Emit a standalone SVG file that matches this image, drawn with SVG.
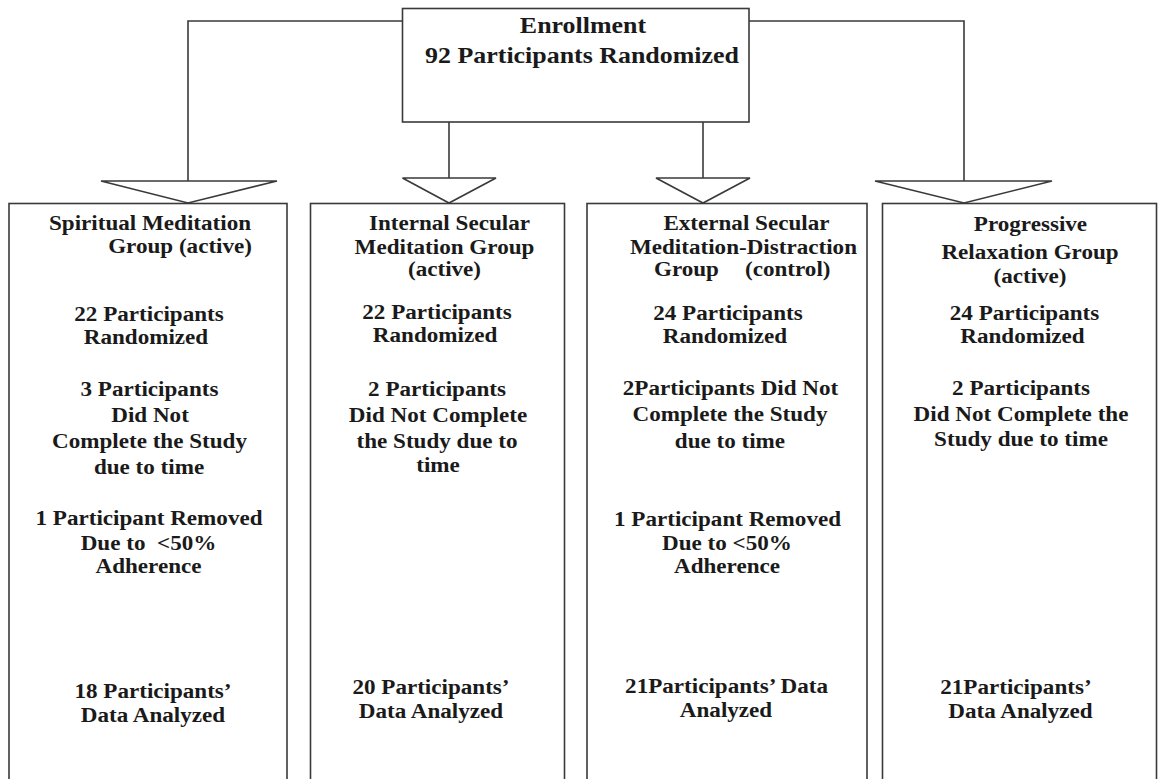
<svg xmlns="http://www.w3.org/2000/svg" width="1158" height="779" viewBox="0 0 1158 779">
<style>
.box{fill:#fff;stroke:#3a3a3a;stroke-width:1.6}
.ln{fill:none;stroke:#3a3a3a;stroke-width:1.6}
.tri{fill:#fff;stroke:#3a3a3a;stroke-width:1.6;stroke-linejoin:miter}
text{font-family:"Liberation Serif","Times New Roman",serif;font-weight:bold;font-size:21px;fill:#1a1a1a;text-anchor:middle;white-space:pre}
.big{font-size:24px}
.st{text-anchor:start}
.en{text-anchor:end}
</style>
<rect width="1158" height="779" fill="#fff"/>
<g id="connectors">
<polyline class="ln" points="402,21 188,21 188,181"/>
<line class="ln" x1="449" y1="122" x2="449" y2="178"/>
<line class="ln" x1="703" y1="122" x2="703" y2="178"/>
<polyline class="ln" points="749,21 964,21 964,181"/>
<polygon class="tri" points="101,181 277,181 188,203"/>
<polygon class="tri" points="402.5,178 496,178 449,203"/>
<polygon class="tri" points="656,178 750,178 703,203"/>
<polygon class="tri" points="875,181 1052,181 964,203"/>
</g>
<g id="enrollment">
<rect class="box" x="402.5" y="8.5" width="346.5" height="113.5"/>
<g transform="scale(1.08 1)">
<text class="big" x="539.8" y="33">Enrollment</text>
<text class="big" x="538.9" y="63">92 Participants Randomized</text>
</g>
</g>
<g id="spiritual">
<rect class="box" x="9" y="203.5" width="278" height="580"/>
<g transform="scale(1.1 1)">
<text x="136.4" y="230">Spiritual Meditation</text>
<text class="en" x="229.1" y="253.5">Group (active)</text>
<text x="135.5" y="321.5">22 Participants</text>
<text x="132.7" y="344">Randomized</text>
<text x="135.9" y="396">3 Participants</text>
<text x="136.4" y="422">Did Not</text>
<text x="135.9" y="448">Complete the Study</text>
<text x="135.5" y="474">due to time</text>
<text x="135.5" y="525">1 Participant Removed</text>
<text x="135" y="550">Due to  &lt;50%</text>
<text x="135" y="573">Adherence</text>
<text x="139.1" y="698">18 Participants’</text>
<text x="139.1" y="722">Data Analyzed</text>
</g>
</g>
<g id="internal">
<rect class="box" x="310.5" y="203.5" width="254" height="580"/>
<g transform="scale(1.1 1)">
<text x="408.6" y="230.5">Internal Secular</text>
<text x="404.1" y="254">Meditation Group</text>
<text x="404.1" y="276">(active)</text>
<text x="397.3" y="319.5">22 Participants</text>
<text x="395.5" y="342">Randomized</text>
<text x="397.3" y="396.5">2 Participants</text>
<text x="398.2" y="422.5">Did Not Complete</text>
<text x="397.3" y="448">the Study due to</text>
<text x="398.2" y="472.5">time</text>
<text x="391.8" y="694">20 Participants’</text>
<text x="391.8" y="718">Data Analyzed</text>
</g>
</g>
<g id="external">
<rect class="box" x="587" y="203.5" width="280" height="580"/>
<g transform="scale(1.1 1)">
<text x="678.6" y="230.5">External Secular</text>
<text x="675.9" y="254">Meditation-Distraction</text>
<text class="st" x="594.5" y="276.5">Group<tspan x="677.3">(control)</tspan></text>
<text x="661.8" y="320">24 Participants</text>
<text x="659.1" y="343">Randomized</text>
<text x="664.1" y="395">2Participants Did Not</text>
<text x="663.6" y="421.5">Complete the Study</text>
<text x="663.6" y="448">due to time</text>
<text x="661.4" y="526">1 Participant Removed</text>
<text x="660.9" y="550">Due to &lt;50%</text>
<text x="660.9" y="573">Adherence</text>
<text x="660.5" y="693">21Participants’ Data</text>
<text x="660" y="717">Analyzed</text>
</g>
</g>
<g id="progressive">
<rect class="box" x="882.5" y="203.5" width="274" height="580"/>
<g transform="scale(1.1 1)">
<text x="936.8" y="231.5">Progressive</text>
<text x="936.4" y="259">Relaxation Group</text>
<text x="936.4" y="283">(active)</text>
<text x="931.4" y="320">24 Participants</text>
<text x="929.5" y="343">Randomized</text>
<text x="928.2" y="395">2 Participants</text>
<text x="928.2" y="421">Did Not Complete the</text>
<text x="928.2" y="446.5">Study due to time</text>
<text x="923.6" y="694">21Participants’</text>
<text x="927.7" y="718">Data Analyzed</text>
</g>
</g>
</svg>
